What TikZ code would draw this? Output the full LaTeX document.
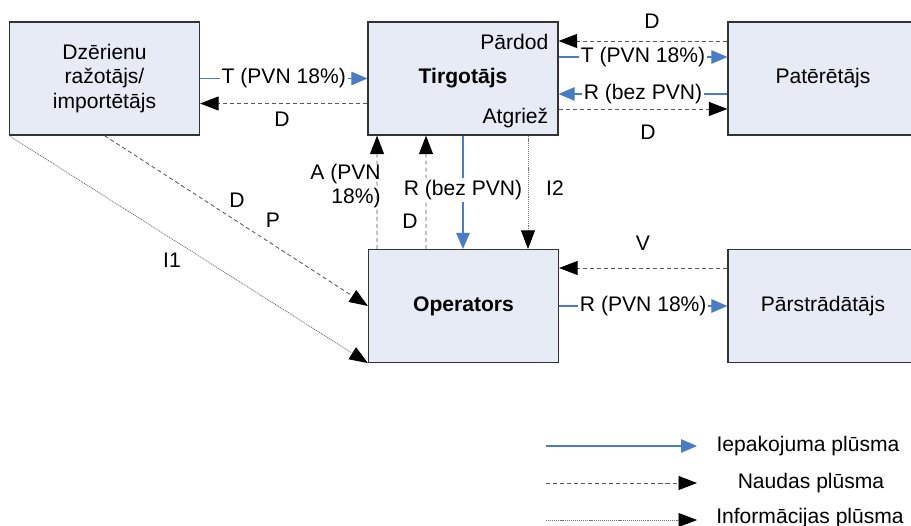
\documentclass[tikz,border=0pt]{standalone}
\usepackage{fontspec}
\setmainfont{Liberation Sans}
\usepackage{tikz}
\usetikzlibrary{arrows.meta, calc, positioning}

\definecolor{boxfill}{HTML}{E7EBF5}
\definecolor{packblue}{HTML}{4A7BC6}

\begin{document}
\begin{tikzpicture}[x=0.02cm, y=-0.02cm, font=\fontsize{12}{14}\selectfont]
	\tikzstyle{box} = [draw=black!80, line width=0.7pt, fill=boxfill, minimum width=3.8cm, minimum height=2.26cm, align=center, inner sep=0pt]
	\tikzstyle{pack} = [-{Triangle[length=0.32cm, width=0.27cm]}, draw=packblue, line width=0.6pt]
	\tikzstyle{cash} = [-{Triangle[length=0.37cm, width=0.28cm, color=black]}, draw=black!65, dash pattern=on 2.3pt off 1.7pt, line width=0.5pt]
	\tikzstyle{info} = [-{Triangle[length=0.37cm, width=0.28cm, color=black]}, draw=black!55, dash pattern=on 0.6pt off 0.5pt, line width=0.45pt]
	\tikzstyle{lbl} = [fill=white, inner sep=1pt]
	\tikzstyle{txt} = [inner sep=0pt]

	\useasboundingbox (0,0) rectangle (911,526);

	% participants
	\node[box] (razotajs) at (104.5,78.5) {Dzērienu\\ražotājs/\\importētājs};
	\node[box] (tirgotajs) at (463,78.5) {\textbf{Tirgotājs}};
	\node[box] (pateretajs) at (823,78.5) {Patērētājs};
	\node[box] (operators) at (463.5,306) {\textbf{Operators}};
	\node[box] (parstradatajs) at (823,306) {Pārstrādātājs};

	\node[txt, anchor=east] (pardod) at ([xshift=-0.2cm, yshift=0.73cm]tirgotajs.east) {Pārdod};
	\node[txt, anchor=east] (atgriez) at ([xshift=-0.2cm, yshift=-0.79cm]tirgotajs.east) {Atgriež};

	% flows
	\path
		(razotajs.east) edge[pack] node[lbl] {T (PVN 18\%)} (tirgotajs.west)
		([yshift=-0.5cm]tirgotajs.west) edge[cash] ([yshift=-0.5cm]razotajs.east)

		([yshift=0.75cm]pateretajs.west) edge[cash] ([yshift=0.75cm]tirgotajs.east)
		([yshift=0.43cm]tirgotajs.east) edge[pack] node[lbl] {T (PVN 18\%)} ([yshift=0.43cm]pateretajs.west)
		([yshift=-0.31cm]pateretajs.west) edge[pack] node[lbl] {R (bez PVN)} ([yshift=-0.31cm]tirgotajs.east)
		([yshift=-0.61cm]tirgotajs.east) edge[cash] ([yshift=-0.61cm]pateretajs.west)

		([xshift=-1.73cm]operators.north) edge[cash] ([xshift=-1.72cm]tirgotajs.south)
		([xshift=-0.75cm]operators.north) edge[cash] ([xshift=-0.74cm]tirgotajs.south)
		(tirgotajs.south) edge[pack] node[lbl, pos=0.48] {R (bez PVN)} (tirgotajs.south |- operators.north)
		([xshift=1.3cm]tirgotajs.south) edge[info] ([xshift=1.3cm]tirgotajs.south |- operators.north)

		(razotajs.south) edge[cash] (operators.west)
		(razotajs.south west) edge[info] (operators.south west)

		([yshift=0.76cm]parstradatajs.west) edge[cash] ([yshift=0.76cm]operators.east)
		(operators.east) edge[pack] node[lbl] {R (PVN 18\%)} (parstradatajs.west)
	;

	% flow labels
	\node[txt] (dRaz) at (282,119) {D};
	\node[txt] (dPatTop) at (652,21) {D};
	\node[txt] (dPatBot) at (648,132) {D};
	\node[txt, anchor=east, align=right, font=\fontsize{12}{13.5}\selectfont] (aPvn) at (381,186) {A (PVN\\18\%)};
	\node[txt] (dOp) at (410,221) {D};
	\node[txt] (i2) at (555,188) {I2};
	\node[txt] (dDiag) at (237,200) {D};
	\node[txt] (pDiag) at (273,220) {P};
	\node[txt] (i1) at (172,260) {I1};
	\node[txt] (v) at (643,243) {V};

	% legend
	\coordinate (leg1a) at (546,446); \coordinate (leg1b) at (697,446);
	\coordinate (leg2a) at (546,483); \coordinate (leg2b) at (697,483);
	\coordinate (leg3a) at (546,520); \coordinate (leg3b) at (697,520);
	\draw[pack] (leg1a) -- (leg1b);
	\draw[cash] (leg2a) -- (leg2b);
	\draw[info] (leg3a) -- (leg3b);
	\node[txt] (legPack) at (808,446) {Iepakojuma plūsma};
	\node[txt] (legCash) at (811,483) {Naudas plūsma};
	\node[txt] (legInfo) at (810,518) {Informācijas plūsma};
\end{tikzpicture}
\end{document}
